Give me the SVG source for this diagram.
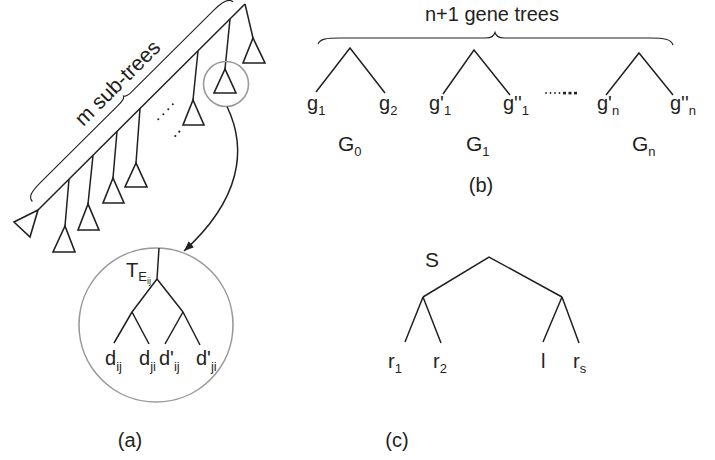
<svg xmlns="http://www.w3.org/2000/svg" width="715" height="460" viewBox="0 0 715 460">
  <style>
    .ln { fill: none; stroke: #231f20; stroke-width: 1.5; stroke-linejoin: miter; }
    .tri { fill: #ffffff; stroke: #231f20; stroke-width: 1.6; stroke-linejoin: miter; }
    .ring { fill: none; stroke: #9a9a9a; stroke-width: 1.6; }
    .br { fill: none; stroke: #231f20; stroke-width: 1.1; }
    .lb { font-family: "Liberation Sans", Arial, sans-serif; font-size: 20px; fill: #231f20; }
    .big { font-size: 21px; }
    .sub { font-size: 13px; }
    .subsub { font-size: 9px; }
    .dot { fill: #231f20; }
  </style>
  <defs>
    <marker id="arrow" viewBox="0 0 10 8" refX="10" refY="4" markerWidth="10" markerHeight="8" markerUnits="userSpaceOnUse" orient="auto">
      <path d="M0,0 L10,4 L0,8 z" fill="#231f20"/>
    </marker>
  </defs>

  <!-- (a) caterpillar tree with m sub-trees -->
  <g id="caterpillar">
    <path class="ln" d="M38,210 L245,4"/>
    <path class="ln" d="M245,4 L253,38"/>
    <path class="ln" d="M230,19 L225,69"/>
    <path class="ln" d="M198,51 L193,100"/>
    <path class="ln" d="M140,108.5 L136,163"/>
    <path class="ln" d="M117,131.4 L113,178"/>
    <path class="ln" d="M93,155.3 L88,204"/>
    <path class="ln" d="M69,179.2 L65,226"/>
    <polygon class="tri" points="253,38 243,63 265,63"/>
    <polygon class="tri" points="225,69 214,93 236,93"/>
    <polygon class="tri" points="193,100 183,125 204,125"/>
    <polygon class="tri" points="136,163 125,187 147,187"/>
    <polygon class="tri" points="113,178 103,203 124,203"/>
    <polygon class="tri" points="88,204 78,230 99,230"/>
    <polygon class="tri" points="65,226 53,252 75,252"/>
    <polygon class="tri" points="38,210 14,222 30,237"/>
    <!-- ellipsis between the sub-trees -->
    <circle class="dot" cx="158.3" cy="119.3" r="1"/>
    <circle class="dot" cx="163.3" cy="114.3" r="1"/>
    <circle class="dot" cx="168.3" cy="109.3" r="1"/>
    <circle class="dot" cx="172.8" cy="104.3" r="1"/>
    <circle class="dot" cx="175.3" cy="136" r="1.1"/>
    <circle class="dot" cx="179.3" cy="131.7" r="1.1"/>
  </g>

  <g id="brace-a" transform="translate(38,210) rotate(-44.85)">
    <path class="br" d="M2,-10 C2,-16 8,-17.7 22,-17.7 L132,-17.7 C138,-17.7 140,-18.5 141,-20.5 C142,-18.5 144,-17.7 150,-17.7 L266,-17.7 C280,-17.7 285,-15 285,-10"/>
    <text class="lb big" x="146" y="-27" text-anchor="middle">m sub-trees</text>
  </g>

  <g id="zoom-ring">
    <circle class="ring" cx="226" cy="84" r="22.5"/>
  </g>

  <g id="connectors">
    <path class="ln" d="M227,106.5 C248,150 240,200 184,251" marker-end="url(#arrow)"/>
  </g>

  <!-- enlarged sub-tree T_Eij -->
  <g id="subtree-detail">
    <circle class="ring" cx="156" cy="325" r="77"/>
    <path class="ln" d="M159,248 L157,279 M157,279 L132,312 M157,279 L183,312 M132,312 L114,343 M132,312 L149,344 M183,312 L165,344 M183,312 L200,345"/>
    <text class="lb" x="126" y="277">T<tspan class="sub" dy="4">E</tspan><tspan class="subsub" dy="3">ij</tspan></text>
    <text class="lb" x="105" y="365">d<tspan class="sub" dy="6">ij</tspan></text>
    <text class="lb" x="139" y="365">d<tspan class="sub" dy="6">ji</tspan></text>
    <text class="lb" x="159" y="365">d'<tspan class="sub" dy="6">ij</tspan></text>
    <text class="lb" x="196" y="365">d'<tspan class="sub" dy="6">ji</tspan></text>
  </g>

  <text id="label-a" class="lb" x="130" y="447" text-anchor="middle">(a)</text>

  <!-- (b) gene trees -->
  <g id="brace-b">
    <path class="br" d="M318,44 C320,39 326,38 340,38 L486,38 C491,38 494,36 495,32.5 C496,36 499,38 504,38 L650,38 C664,38 671,39 673,45"/>
    <text class="lb" x="492" y="21" text-anchor="middle">n+1 gene trees</text>
  </g>

  <g id="G0">
    <path class="ln" d="M316,92 L350,48 L385,93"/>
    <text class="lb" x="307" y="110">g<tspan class="sub" dy="5">1</tspan></text>
    <text class="lb" x="379" y="110">g<tspan class="sub" dy="5">2</tspan></text>
    <text class="lb big" x="338" y="151">G<tspan class="sub" dy="5">0</tspan></text>
  </g>

  <g id="G1">
    <path class="ln" d="M443,94 L474,50 L510,95"/>
    <text class="lb" x="429" y="110">g'<tspan class="sub" dy="5">1</tspan></text>
    <text class="lb" x="503" y="110">g''<tspan class="sub" dy="5">1</tspan></text>
    <text class="lb big" x="466" y="151">G<tspan class="sub" dy="5">1</tspan></text>
  </g>

  <g id="gap-dots">
    <circle class="dot" cx="546" cy="93" r="0.9"/>
    <circle class="dot" cx="550.5" cy="93" r="0.9"/>
    <circle class="dot" cx="555" cy="93" r="0.9"/>
    <circle class="dot" cx="559.5" cy="93" r="0.9"/>
    <rect class="dot" x="563" y="91.8" width="3" height="2.6"/>
    <rect class="dot" x="568.5" y="91.8" width="3" height="2.6"/>
    <rect class="dot" x="574" y="91.8" width="3" height="2.6"/>
  </g>

  <g id="Gn">
    <path class="ln" d="M606,95 L639,53 L673,95"/>
    <text class="lb" x="597" y="110">g'<tspan class="sub" dy="5">n</tspan></text>
    <text class="lb" x="670" y="110">g''<tspan class="sub" dy="5">n</tspan></text>
    <text class="lb big" x="632" y="151">G<tspan class="sub" dy="5">n</tspan></text>
  </g>

  <text id="label-b" class="lb" x="481" y="192" text-anchor="middle">(b)</text>

  <!-- (c) species tree S -->
  <g id="species-tree">
    <path class="ln" d="M423,297 L489,257 L562,297 M423,297 L405,342 M423,297 L441,343 M562,297 L543,342 M562,297 L579,343"/>
    <text class="lb big" x="425" y="267">S</text>
    <text class="lb" x="388" y="368">r<tspan class="sub" dy="5">1</tspan></text>
    <text class="lb" x="433" y="368">r<tspan class="sub" dy="5">2</tspan></text>
    <text class="lb" x="541" y="368">l</text>
    <text class="lb" x="573" y="368">r<tspan class="sub" dy="5">s</tspan></text>
  </g>

  <text id="label-c" class="lb" x="397" y="447" text-anchor="middle">(c)</text>
</svg>
